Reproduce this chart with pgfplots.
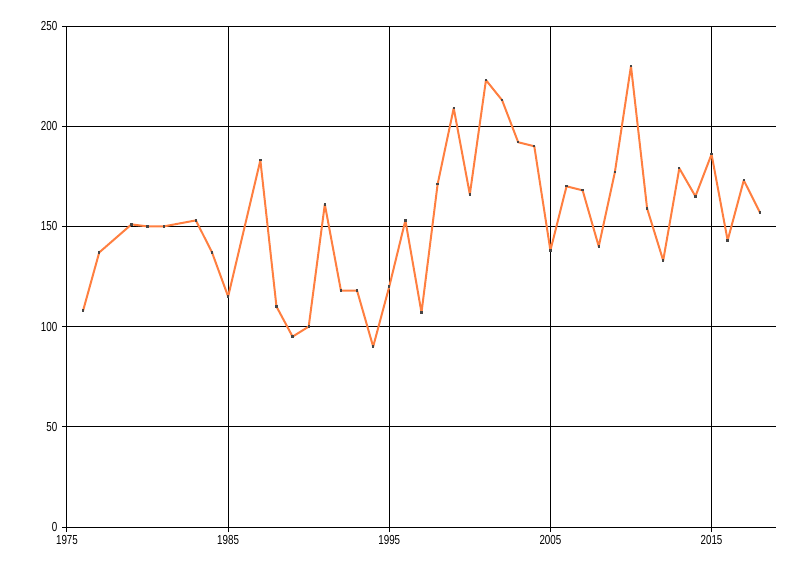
\documentclass[border=0pt]{standalone}
\usepackage{fontspec}
\setmainfont{Liberation Sans}
\newfontfamily\tickfont[FakeStretch=0.75]{Liberation Sans}
\usepackage{pgfplots}
\pgfplotsset{compat=1.18}
\definecolor{lineorange}{RGB}{255,127,64}
\definecolor{markgray}{RGB}{70,70,70}
\begin{document}
\begin{tikzpicture}
\useasboundingbox (0pt,0pt) rectangle (600pt,432pt);
\begin{axis}[
  at={(50.25pt,36.75pt)}, anchor=south west,
  scale only axis, width=531.75pt, height=375.75pt,
  xmin=1975, xmax=2019, ymin=0, ymax=250,
  xtick={1975,1985,1995,2005,2015},
  ytick={0,50,100,150,200,250},
  grid=major, grid style={black, line width=0.75pt},
  axis x line*=bottom, axis y line*=left,
  axis line style={-, black, line width=0.75pt},
  tick style={black, line width=0.75pt},
  tick align=outside, major tick length=3.75pt,
  /pgf/number format/assume math mode=true,
  /pgf/number format/1000 sep={},
  tick label style={font=\tickfont\fontsize{9.8}{10}\selectfont, black},
  xticklabel style={yshift=1pt},
  clip=false,
]
\addplot[color=lineorange, line width=1.5pt, line join=round, mark=square*, mark size=0.5pt,
  mark options={fill=markgray, draw=markgray, line width=0pt}] coordinates {
(1976,108) (1977,137) (1979,151) (1980,150) (1981,150) (1983,153) (1984,137)
(1985,115) (1987,183) (1988,110) (1989,95) (1990,100) (1991,161) (1992,118)
(1993,118) (1994,90) (1995,120) (1996,153) (1997,107) (1998,171) (1999,209)
(2000,166) (2001,223) (2002,213) (2003,192) (2004,190) (2005,138) (2006,170)
(2007,168) (2008,140) (2009,177) (2010,230) (2011,159) (2012,133) (2013,179)
(2014,165) (2015,186) (2016,143) (2017,173) (2018,157)
};
\end{axis}
\end{tikzpicture}
\end{document}
